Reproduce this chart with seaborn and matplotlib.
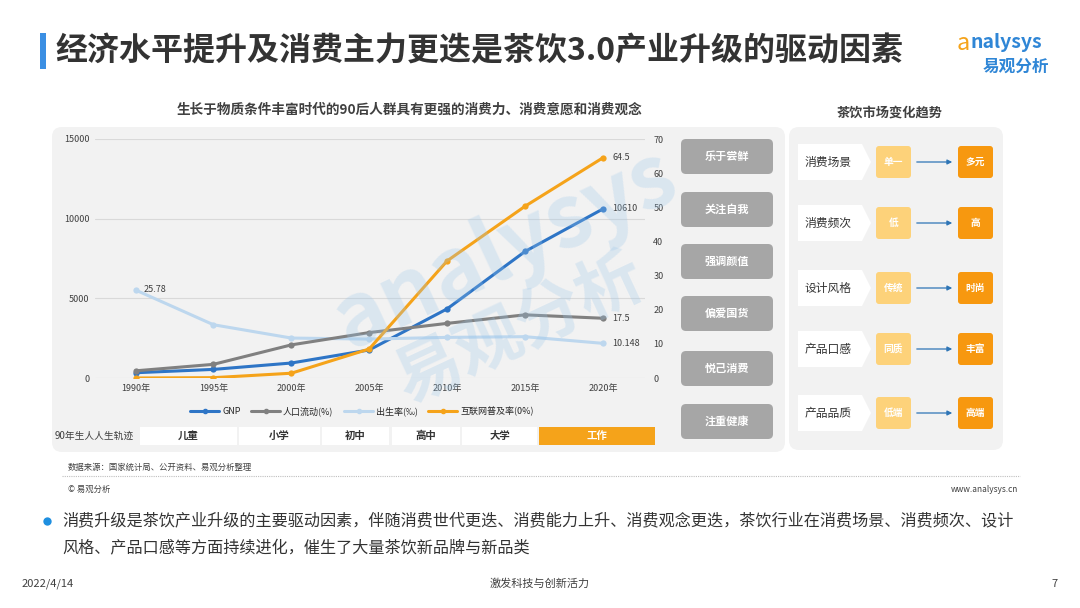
import pandas as pd
import matplotlib
matplotlib.use("Agg")
import matplotlib.pyplot as plt
import seaborn as sns
from matplotlib.patches import FancyBboxPatch, Polygon, Rectangle
from matplotlib.lines import Line2D

# 数据
years = [1990, 1995, 2000, 2005, 2010, 2015, 2020]
gnp = [330, 540, 940, 1760, 4340, 7940, 10610]
mobility = [2.1, 4.0, 9.7, 13.3, 16.0, 18.5, 17.5]
birth_rate = [25.78, 15.6, 11.7, 11.4, 11.9, 12.1, 10.148]
internet = [0.0, 0.1, 1.4, 8.5, 34.3, 50.3, 64.5]

life_stages = ["儿童", "小学", "初中", "高中", "大学", "工作"]
traits = ["乐于尝鲜", "关注自我", "强调颜值", "偏爱国货", "悦己消费", "注重健康"]
trend_items = ["消费场景", "消费频次", "设计风格", "产品口感", "产品品质"]
trend_from = ["单一", "低", "传统", "同质", "低端"]
trend_to = ["多元", "高", "时尚", "丰富", "高端"]

df = pd.DataFrame({"year": years, "gnp": gnp, "mobility": mobility,
                   "birth": birth_rate, "internet": internet})

sns.set_theme(style="white")
plt.rcParams["font.family"] = ["Noto Sans CJK SC", "DejaVu Sans"]

BLUE = "#2e75c6"
GRAY = "#808080"
LIGHT = "#bdd7ee"
ORANGE = "#f5a31a"
DARK = "#333333"

fig = plt.figure(figsize=(10.8, 6.08), dpi=100)

# 背景层，像素坐标
bg = fig.add_axes([0, 0, 1, 1], zorder=-5)
bg.set_xlim(0, 1080)
bg.set_ylim(608, 0)
bg.axis("off")

def rbox(x0, y0, x1, y1, color, r=5, z=1, ec="none"):
    bg.add_patch(FancyBboxPatch((x0 + r, y0 + r), x1 - x0 - 2 * r, y1 - y0 - 2 * r,
                                boxstyle=f"round,pad={r}", fc=color, ec=ec, zorder=z))

# 标题
bg.add_patch(Rectangle((40, 33), 6, 36, fc="#3b8fe3", ec="none"))
bg.text(55, 51, "经济水平提升及消费主力更迭是茶饮3.0产业升级的驱动因素",
        fontsize=23, fontweight="bold", color=DARK, va="center", ha="left")

# logo
bg.text(957, 43, "a", fontsize=17, color="#f5a31a", style="italic", va="center", ha="left")
bg.text(970, 43, "nalysys", fontsize=14, color="#2f86d6", fontweight="bold",
        style="italic", va="center", ha="left")
bg.text(1016, 67, "易观分析", fontsize=12, color="#2f86d6", fontweight="bold",
        va="center", ha="center")

# 面板
rbox(52, 127, 785, 452, "#f2f2f2", r=10, z=0)
rbox(789, 127, 1003, 450, "#f2f2f2", r=10, z=0)

bg.text(409, 110, "生长于物质条件丰富时代的90后人群具有更强的消费力、消费意愿和消费观念",
        fontsize=9.8, fontweight="bold", color="#404040", va="center", ha="center")
bg.text(890, 113, "茶饮市场变化趋势", fontsize=9.5, fontweight="bold",
        color="#404040", va="center", ha="center")

# 折线图
ax = fig.add_axes([95 / 1080, 1 - 378 / 608, 550 / 1080, 239 / 608])
ax.patch.set_alpha(0)
ax2 = ax.twinx()

sns.lineplot(data=df, x="year", y="gnp", ax=ax, color=BLUE, lw=2.2,
             marker="o", markersize=4.5, markeredgewidth=0, zorder=5)
sns.lineplot(data=df, x="year", y="mobility", ax=ax2, color=GRAY, lw=2.2,
             marker="o", markersize=4.5, markeredgewidth=0, zorder=3)
sns.lineplot(data=df, x="year", y="birth", ax=ax2, color=LIGHT, lw=2.2,
             marker="o", markersize=4.5, markeredgewidth=0, zorder=2)
sns.lineplot(data=df, x="year", y="internet", ax=ax2, color=ORANGE, lw=2.2,
             marker="o", markersize=4.5, markeredgewidth=0, zorder=4)

for a in (ax, ax2):
    a.set_xlim(years[0] - 2.6, years[-1] + 2.7)
    a.set_xlabel("")
    a.set_ylabel("")
    for s in a.spines.values():
        s.set_visible(False)
    a.tick_params(length=0, labelsize=6.5, colors="#404040")

ax.set_ylim(0, 15000)
ax.set_yticks([0, 5000, 10000, 15000])
ax2.set_ylim(0, 70)
ax2.set_yticks(range(0, 80, 10))
ax.grid(axis="y", color="#d9d9d9", lw=0.8)
ax.set_xticks(years)
ax.set_xticklabels([f"{y}年" for y in years])
ax.tick_params(axis="y", pad=4)
ax.tick_params(axis="x", pad=4)
ax2.tick_params(axis="y", pad=6)

lab = dict(fontsize=6.5, color="#404040", va="center", ha="left")
ax2.annotate(f"{birth_rate[0]}", (years[0], birth_rate[0]), xytext=(6, 0),
             textcoords="offset points", **lab)
ax2.annotate(f"{internet[-1]}", (years[-1], internet[-1]), xytext=(7, 0),
             textcoords="offset points", **lab)
ax.annotate(f"{gnp[-1]}", (years[-1], gnp[-1]), xytext=(7, 0),
            textcoords="offset points", **lab)
ax2.annotate(f"{mobility[-1]}", (years[-1], mobility[-1]), xytext=(7, 0),
             textcoords="offset points", **lab)
ax2.annotate(f"{birth_rate[-1]}", (years[-1], birth_rate[-1]), xytext=(7, 0),
             textcoords="offset points", **lab)

handles = [Line2D([], [], color=c, lw=2.2, marker="o", markersize=3)
           for c in (BLUE, GRAY, LIGHT, ORANGE)]
ax.legend(handles, ["GNP", "人口流动(%)", "出生率(‰)", "互联网普及率(0%)"],
          loc="center", bbox_to_anchor=(362 / 1080, 1 - 411 / 608),
          bbox_transform=fig.transFigure, ncol=4, frameon=False,
          fontsize=6.5, handlelength=3.2, columnspacing=1.2, handletextpad=0.3)

# 人生轨迹
bg.text(94, 436, "90年生人人生轨迹", fontsize=7, color="#404040", va="center", ha="center")
stage_spans = [(140, 237), (239, 320), (322, 389), (392, 460), (462, 537), (539, 655)]
for name, (x0, x1) in zip(life_stages, stage_spans):
    last = name == life_stages[-1]
    bg.add_patch(Rectangle((x0, 427), x1 - x0, 18,
                           fc=ORANGE if last else "white", ec="none", zorder=1))
    bg.text((x0 + x1) / 2, 436, name, fontsize=7.5, fontweight="bold",
            color="white" if last else DARK, va="center", ha="center", zorder=2)

# 特征按钮
btn_y = [139, 192, 244, 296, 351, 404]
for t, y0 in zip(traits, btn_y):
    rbox(681, y0, 773, y0 + 35, "#a6a6a6", r=5, z=1)
    bg.text(727, y0 + 17.5, t, fontsize=8, fontweight="bold", color="white",
            va="center", ha="center", zorder=2)

# 茶饮趋势
row_y = [162, 223, 288, 349, 413]
for item, f, t, yc in zip(trend_items, trend_from, trend_to, row_y):
    bg.add_patch(Polygon([(798, yc - 18), (862, yc - 18), (871, yc),
                          (862, yc + 18), (798, yc + 18)], closed=True,
                         fc="white", ec="none", zorder=1))
    bg.text(805, yc, item, fontsize=8.5, color=DARK, va="center", ha="left", zorder=2)
    rbox(876, yc - 16, 911, yc + 16, "#fdd27a", r=3, z=1)
    bg.text(893.5, yc, f, fontsize=7, fontweight="bold", color="white",
            va="center", ha="center", zorder=2)
    bg.annotate("", xy=(955, yc), xytext=(914, yc),
                arrowprops=dict(arrowstyle="-|>", color="#2e75b6", lw=0.9,
                                mutation_scale=7), zorder=2)
    rbox(958, yc - 16, 993, yc + 16, "#f7980f", r=3, z=1)
    bg.text(975.5, yc, t, fontsize=7, fontweight="bold", color="white",
            va="center", ha="center", zorder=2)

# 来源和说明
bg.text(68, 467, "数据来源：国家统计局、公开资料、易观分析整理", fontsize=6,
        color="#404040", va="center", ha="left")
bg.plot([62, 1020], [476, 476], color="#bfbfbf", lw=0.8, ls=(0, (1, 1)))
bg.text(68, 489, "© 易观分析", fontsize=6, color="#404040", va="center", ha="left")
bg.text(1018, 489, "www.analysys.cn", fontsize=6, color="#404040", va="center", ha="right")

bg.plot([47], [521], marker="o", markersize=6, color="#1f8fe0", mec="none")
bg.text(62, 521, "消费升级是茶饮产业升级的主要驱动因素，伴随消费世代更迭、消费能力上升、"
        "消费观念更迭，茶饮行业在消费场景、消费频次、设计", fontsize=11.6,
        color=DARK, va="center", ha="left")
bg.text(62, 548, "风格、产品口感等方面持续进化，催生了大量茶饮新品牌与新品类",
        fontsize=11.6, color=DARK, va="center", ha="left")

bg.text(22, 584, "2022/4/14", fontsize=8, color="#404040", va="center", ha="left")
bg.text(540, 584, "激发科技与创新活力", fontsize=8, color="#404040", va="center", ha="center")
bg.text(1055, 584, "7", fontsize=8, color="#404040", va="center", ha="center")

# 水印
fig.text(505 / 1080, 1 - 250 / 608, "analysys", fontsize=62, color="#9cc7ea",
         alpha=0.28, rotation=25, fontweight="bold", style="italic",
         ha="center", va="center")
fig.text(520 / 1080, 1 - 330 / 608, "易观分析", fontsize=48, color="#9cc7ea",
         alpha=0.28, rotation=25, fontweight="bold", ha="center", va="center")

fig.savefig("out.png", dpi=100)
